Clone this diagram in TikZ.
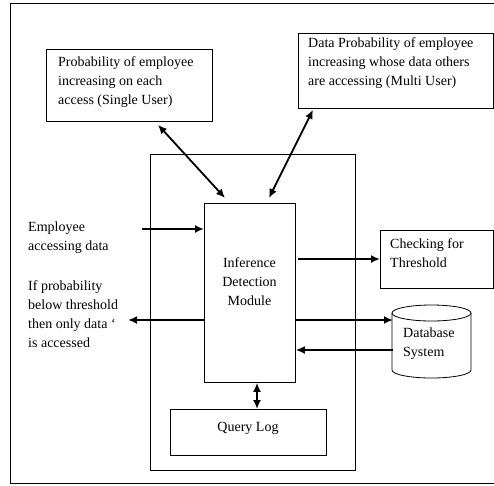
\documentclass[tikz,border=0pt]{standalone}
\usepackage{fontspec}
\setmainfont{Liberation Serif}
\usetikzlibrary{arrows.meta}
\begin{document}
\begin{tikzpicture}[x=1pt,y=-1pt,
  box/.style={draw, line width=0.8pt, inner sep=0pt, anchor=north west},
  txt/.style={inner sep=0pt, align=left, anchor=north west, font=\fontsize{14}{19}\selectfont},
  arr/.style={line width=1.8pt, -{Latex[length=9pt,width=8pt]}},
  darr/.style={line width=1.8pt, {Latex[length=9pt,width=8pt]}-{Latex[length=9pt,width=8pt]}}]
\useasboundingbox (0,0) rectangle (494,485);
% frames and boxes
\node[box, minimum width=490pt, minimum height=480pt] (frame) at (10,3) {};
\node[box, minimum width=166pt, minimum height=72pt] (single) at (46,49) {};
\node[box, minimum width=195pt, minimum height=75pt] (multi) at (298,33) {};
\node[box, minimum width=205pt, minimum height=316pt] (sys) at (150,154) {};
\node[box, minimum width=91pt, minimum height=179pt] (inf) at (204,203) {};
\node[box, minimum width=156pt, minimum height=46pt] (ql) at (170,409) {};
\node[box, minimum width=113pt, minimum height=58pt] (chk) at (380,230) {};
\node[inner sep=0pt, minimum width=79pt, minimum height=73pt, anchor=north west] (db) at (392,305) {};
% cylinder
\draw[line width=0.8pt] (431.5,313) ellipse[x radius=39.5, y radius=8];
\draw[line width=0.8pt] (392,313) -- (392,370) arc[start angle=180, end angle=0, x radius=39.5, y radius=8] -- (471,313);
% texts
\node[txt] (singletxt) at (58,56) {Probability of employee\\increasing on each\\access (Single User)};
\node[txt] (multitxt) at (308,37) {Data Probability of employee\\increasing whose data others\\are accessing (Multi User)};
\node[txt] (emptxt) at (28,222) {Employee\\accessing data};
\node[txt] (iftxt) at (28,280) {If probability\\below threshold\\then only data \symbol{96}\\is accessed};
\node[txt, align=center, anchor=north] (inftxt) at (249.5,257) {Inference\\Detection\\Module};
\node[txt] (chktxt) at (390,238) {Checking for\\Threshold};
\node[txt] (dbtxt) at (403,328) {Database\\System};
\node[txt, anchor=center] (qltxt) at (248,428) {Query Log};
% connectors
\coordinate (empin) at (142,229);
\coordinate (leftout) at (128,320);
\draw[darr] ([shift={(112,3)}]single.south west) -- ([shift={(21,-5)}]inf.north west);
\draw[darr] ([shift={(15,1)}]multi.south west) -- ([shift={(65,-5)}]inf.north west);
\draw[arr] (empin) -- (empin -| inf.west);
\draw[arr] ([shift={(2,56)}]inf.north east) -- ([shift={(0,29)}]chk.north west);
\draw[arr] ([shift={(0,117)}]inf.north west) -- (leftout);
\draw[arr] ([shift={(0,117)}]inf.north east) -- ([shift={(1,15)}]db.north west);
\draw[arr] ([shift={(1,45)}]db.north west) -- ([shift={(0,147)}]inf.north east);
\draw[darr] ([shift={(53,0)}]inf.south west) -- ([shift={(87,0)}]ql.north west);
\end{tikzpicture}
\end{document}
